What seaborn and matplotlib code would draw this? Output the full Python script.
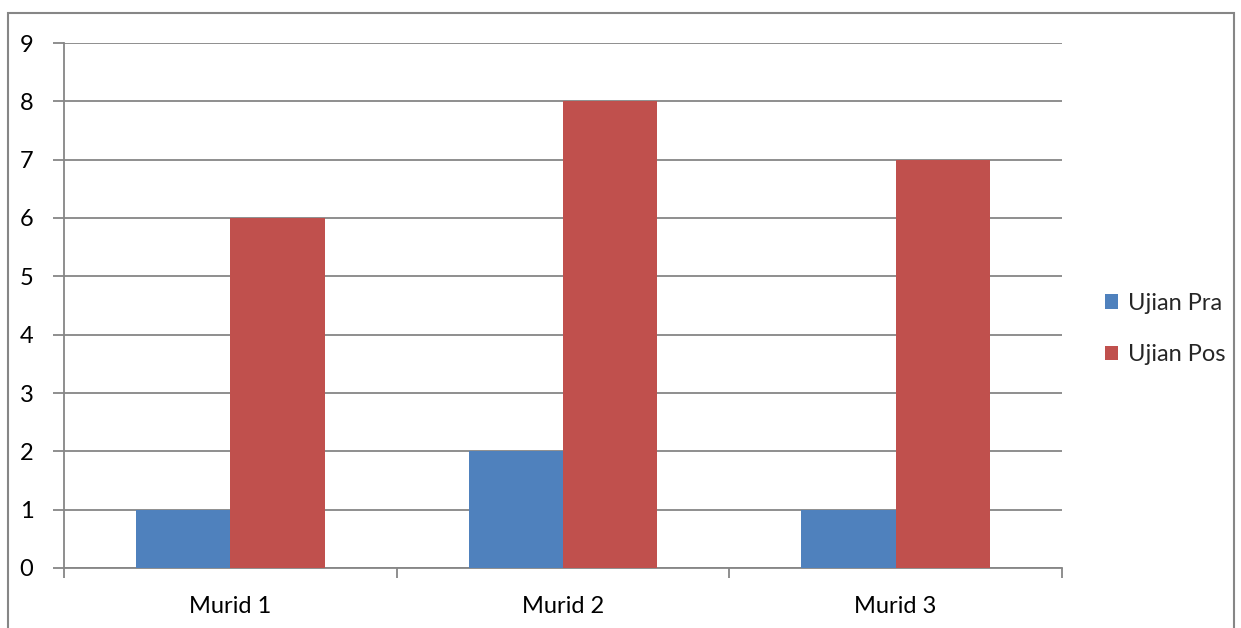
import matplotlib
matplotlib.use("Agg")
import matplotlib.pyplot as plt
import seaborn as sns
import pandas as pd
from matplotlib.patches import Rectangle

students = ["Murid 1", "Murid 2", "Murid 3"]
pre_scores = [1, 2, 1]
post_scores = [6, 8, 7]
series_names = ["Ujian Pra", "Ujian Pos"]
colors = ["#4F81BD", "#C0504D"]
yticks = list(range(0, 10))

df = pd.DataFrame({
    "Murid": students * 2,
    "Skor": pre_scores + post_scores,
    "Ujian": [series_names[0]] * len(students) + [series_names[1]] * len(students),
})

sns.set_theme(style="white")
plt.rcParams["font.family"] = ["Lato", "DejaVu Sans"]

W, H = 1241, 628
fig = plt.figure(figsize=(W / 100, H / 100), dpi=100)
ax = fig.add_axes([64 / W, 1 - 568 / H, (1062 - 64) / W, (568 - 43) / H])

grid_c = "#868686"
fs = 17
sns.barplot(data=df, x="Murid", y="Skor", hue="Ujian", palette=colors,
            width=0.567, saturation=1, ax=ax, zorder=3, legend=True)
for p in ax.patches:
    p.set_edgecolor("none")

ax.set_xlim(-0.5, 2.5)
ax.set_ylim(0, 9)
ax.set_yticks(yticks)
ax.set_yticklabels([str(v) for v in yticks], fontsize=fs, color="black")
ax.set_xticks(range(len(students)))
ax.set_xticklabels(students, fontsize=fs, color="black")
ax.set_xlabel("")
ax.set_ylabel("")
ax.yaxis.grid(True, color=grid_c, linewidth=1.3, zorder=0)
ax.set_axisbelow(True)
for side in ["top", "right"]:
    ax.spines[side].set_visible(False)
for side in ["left", "bottom"]:
    ax.spines[side].set_color(grid_c)
    ax.spines[side].set_linewidth(1.3)
ax.tick_params(axis="y", length=8, width=1.3, color=grid_c, pad=14, left=True)
ax.tick_params(axis="x", length=0, pad=20)
# category separator ticks on the x axis
ax.set_xticks([-0.5, 0.5, 1.5, 2.5], minor=True)
ax.tick_params(axis="x", which="minor", length=7, width=1.3, color=grid_c, bottom=True)

leg = ax.legend(loc="center left", bbox_to_anchor=(1.022, 0.455), frameon=False,
                fontsize=fs, handlelength=0.55, handleheight=0.55,
                handletextpad=0.4, labelspacing=1.3)

# outer chart border
fig.patches.append(Rectangle((8 / W, -0.01), (1234 - 8) / W, 1 - 13 / H + 0.01,
                             transform=fig.transFigure, fill=False,
                             edgecolor="#868686", linewidth=1.5))

fig.savefig("out.png", dpi=100, facecolor="white")
